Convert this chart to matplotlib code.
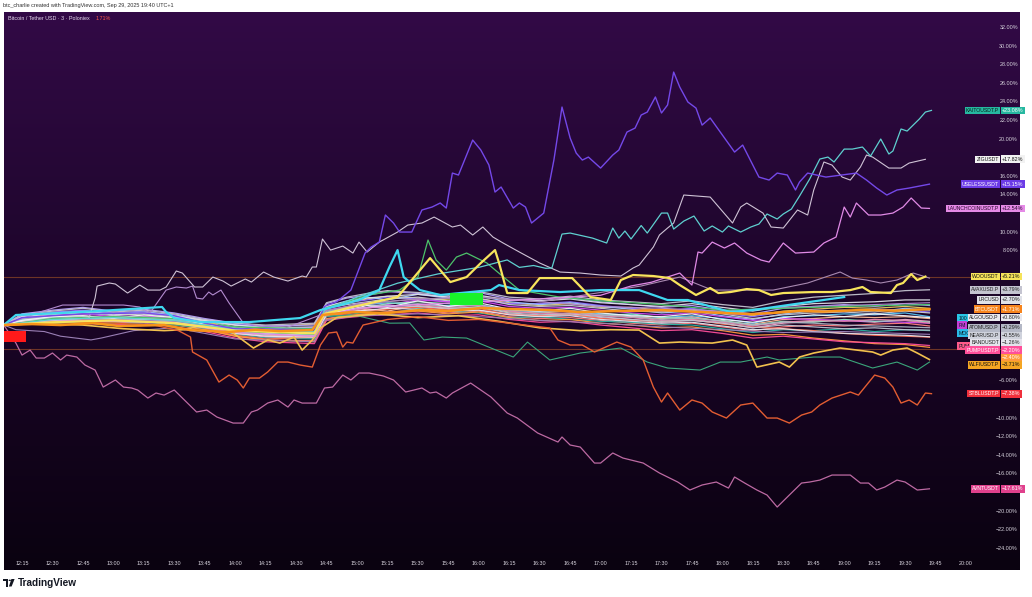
import numpy as np
import pandas as pd
import matplotlib
matplotlib.use("Agg")
import matplotlib.pyplot as plt
import matplotlib.dates as mdates
from matplotlib.colors import LinearSegmentedColormap
from matplotlib.patches import Polygon, Circle
from matplotlib.transforms import blended_transform_factory

plt.rcParams['font.family'] = ['Liberation Sans', 'DejaVu Sans']

DAY = "2025-09-29 "

# 1 Data: % change since the first bar, (time, value) pairs
useless = [("12:06",0.0),("12:15",0.8),("12:45",1.2),("13:15",1.3),("13:30",1.0),("13:45",0.2),("14:00",-0.4),("14:39",-0.5),("14:44",2.0),("14:50",2.5),("14:57",3.76),("15:04",7.74),("15:07",8.39),("15:11",8.92),("15:14",11.83),("15:18",10.97),("15:21",10.0),("15:27",10.0),("15:32",12.37),("15:37",12.69),("15:41",13.12),("15:44",12.58),("15:47",16.34),("15:50",16.13),("15:57",19.89),("16:01",18.82),("16:05",17.2),("16:08",14.3),("16:11",14.84),("16:17",12.58),("16:20",13.12),("16:23",12.69),("16:26",10.97),("16:32",12.04),("16:37",17.74),("16:41",23.44),("16:45",20.11),("16:48",18.49),("16:51",17.74),("16:54",18.06),("17:00",16.88),("17:06",18.28),("17:09",18.82),("17:13",20.75),("17:17",21.18),("17:20",22.58),("17:23",22.9),("17:27",24.52),("17:30",22.8),("17:33",23.66),("17:36",27.2),("17:39",25.59),("17:43",23.98),("17:47",23.33),("17:50",21.5),("17:54",22.26),("18:00",20.43),("18:06",18.6),("18:10",19.35),("18:13",18.06),("18:18",15.91),("18:23",15.59),("18:27",16.34),("18:32",16.13),("18:36",14.52),("18:38",15.38),("18:42",16.34),("18:51",15.91),("19:06",16.34),("19:11",15.59),("19:16",14.73),("19:21",13.98),("19:26",14.52),("19:32",14.73),("19:42",15.15)]

kaito = [("12:06",0.0),("12:30",0.6),("13:00",0.8),("13:30",0.5),("14:00",-0.5),("14:39",-0.7),("14:44",1.6),("15:00",3.0),("15:20",4.5),("15:40",5.5),("16:00",6.2),("16:14",7.0),("16:20",6.2),("16:27",6.4),("16:33",6.1),("16:36",6.13),("16:41",9.78),("16:45",9.89),("16:56",9.35),("17:03",8.82),("17:06",10.43),("17:09",9.35),("17:12",10.11),("17:15",9.25),("17:20",10.7),("17:23",9.89),("17:30",12.04),("17:33",12.04),("17:36",10.32),("17:41",11.18),("17:46",11.72),("17:51",10.11),("17:55",10.65),("18:00",10.0),("18:03",10.65),("18:09",10.0),("18:14",10.54),("18:18",10.86),("18:22",11.94),("18:27",11.4),("18:30",11.94),("18:34",12.47),("18:38",13.87),("18:43",15.7),("18:48",17.85),("18:52",18.06),("18:55",17.53),("19:00",18.92),("19:04",18.92),("19:09",19.14),("19:13",18.17),("19:18",20.0),("19:22",18.39),("19:24",18.71),("19:28",21.08),("19:31",20.86),("19:37",22.15),("19:40",22.9),("19:43",23.08)]

zig = [("12:06",0.0),("12:34",0.54),("12:48",0.75),("12:51",2.9),("12:52",4.19),("12:58",4.52),("13:01",4.41),("13:07",3.44),("13:13",4.3),("13:17",3.76),("13:23",3.76),("13:26",4.09),("13:31",5.81),("13:34",5.59),("13:40",4.09),("13:44",4.09),("13:49",5.16),("13:54",4.73),("13:58",4.19),("14:05",4.95),("14:08",4.62),("14:14",5.7),("14:19",5.16),("14:26",4.73),("14:33",5.27),("14:35",5.16),("14:38",6.24),("14:40",6.24),("14:43",9.25),("14:47",8.06),("14:53",8.49),("14:58",7.74),("15:01",8.92),("15:05",7.85),("15:11",8.92),("15:20",10.0),("15:25",10.75),("15:32",10.97),("15:38",11.61),("15:47",10.54),("15:51",10.75),("15:57",9.68),("16:02",10.54),("16:07",9.46),("16:12",8.82),("16:20",7.85),("16:30",6.67),("16:40",5.7),("16:50",5.59),("17:00",5.38),("17:10",5.27),("17:16",6.13),("17:19",6.45),("17:26",8.39),("17:29",9.68),("17:33",10.43),("17:36",10.97),("17:41",13.98),("17:54",13.76),("18:05",10.97),("18:09",12.69),("18:12",13.12),("18:20",12.04),("18:24",10.54),("18:30",10.43),("18:37",12.37),("18:42",11.83),("18:45",14.52),("18:50",17.53),("18:54",17.2),("18:59",15.91),("19:03",15.59),("19:08",16.99),("19:11",18.28),("19:14",18.06),("19:22",16.88),("19:28",16.88),("19:32",17.42),("19:40",17.82)]

launch = [("12:06",0.0),("12:30",0.5),("13:00",0.4),("13:30",0.2),("14:00",-0.8),("14:39",-1.2),("14:44",1.0),("15:00",1.8),("15:30",2.2),("16:00",2.5),("16:30",2.8),("17:00",3.2),("17:15",4.2),("17:25",4.6),("17:39",5.59),("17:45",4.3),("17:48",7.85),("17:50",7.74),("17:55",8.92),("18:01",8.28),("18:06",8.82),("18:12",7.74),("18:19",6.99),("18:23",6.77),("18:30",8.82),("18:36",7.74),("18:45",7.85),("18:50",8.82),("18:56",9.46),("19:00",12.69),("19:03",11.61),("19:06",13.12),("19:12",11.83),("19:18",11.83),("19:24",12.04),("19:29",12.69),("19:33",13.66),("19:38",12.58),("19:42",12.54)]

avnt = [("12:06",0.0),("12:12",-1.94),("12:15",-3.23),("12:19",-2.69),("12:22",-3.55),("12:26",-3.55),("12:30",-3.01),("12:34",-3.76),("12:37",-3.23),("12:42",-3.44),("12:46",-4.3),("12:51",-4.84),("12:55",-6.67),("13:01",-5.91),("13:05",-6.67),("13:09",-6.77),("13:12",-6.99),("13:17",-7.85),("13:21",-7.31),("13:25",-7.53),("13:30",-6.99),("13:34",-7.85),("13:41",-9.35),("13:46",-9.14),("13:51",-9.89),("13:59",-10.54),("14:04",-10.54),("14:08",-9.35),("14:11",-9.14),("14:16",-8.39),("14:21",-8.06),("14:26",-8.82),("14:29",-8.06),("14:33",-8.39),("14:40",-8.39),("14:44",-6.77),("14:48",-6.67),("14:53",-5.38),("14:57",-5.91),("15:01",-5.16),("15:06",-5.16),("15:13",-5.48),("15:18",-5.91),("15:24",-7.2),("15:28",-6.99),("15:32",-6.77),("15:36",-7.31),("15:39",-7.2),("15:44",-7.85),("15:47",-7.31),("15:56",-6.24),("16:01",-6.99),("16:06",-7.74),("16:14",-9.46),("16:19",-10.0),("16:29",-11.61),("16:39",-12.58),("16:41",-12.04),("16:45",-12.9),("16:50",-13.12),("16:57",-14.84),("17:00",-14.84),("17:06",-13.76),("17:11",-14.3),("17:21",-14.84),("17:29",-15.91),("17:38",-16.88),("17:44",-17.74),("17:50",-17.2),("17:57",-16.88),("18:03",-17.53),("18:06",-16.34),("18:11",-16.99),("18:17",-17.74),("18:22",-18.28),("18:27",-19.57),("18:32",-18.49),("18:39",-16.99),("18:43",-16.88),("18:48",-16.67),("18:54",-16.13),("19:03",-16.13),("19:08",-16.99),("19:12",-16.99),("19:16",-17.74),("19:20",-17.42),("19:26",-16.67),("19:30",-16.88),("19:36",-17.74),("19:42",-17.61)]

stbl = [("12:06",0.0),("12:30",0.4),("13:00",0.2),("13:20",0.0),("13:32",-0.6),("13:38",-1.29),("13:39",-2.9),("13:46",-3.76),("13:52",-6.13),("13:57",-5.38),("14:01",-5.91),("14:04",-6.77),("14:07",-5.7),("14:12",-5.7),("14:16",-5.05),("14:21",-3.98),("14:26",-3.98),("14:32",-4.3),("14:38",-4.52),("14:42",-2.15),("14:46",-0.86),("14:50",-0.75),("14:53",-2.37),("14:55",-1.83),("14:58",-1.94),("15:01",-0.75),("15:03",0.0),("15:15",0.6),("15:30",0.9),("15:45",0.5),("16:00",0.6),("16:15",0.2),("16:35",-0.32),("16:39",-1.61),("16:45",-2.15),("16:51",-2.15),("16:57",-2.9),("17:08",-1.83),("17:15",-2.37),("17:21",-3.76),("17:26",-6.67),("17:30",-8.28),("17:33",-7.31),("17:39",-9.14),("17:45",-8.06),("17:50",-8.39),("17:55",-9.35),("18:02",-10.0),("18:09",-8.6),("18:15",-8.39),("18:22",-10.0),("18:27",-10.0),("18:33",-10.54),("18:39",-9.68),("18:44",-9.35),("18:48",-8.6),("18:54",-7.85),("19:03",-7.2),("19:07",-7.53),("19:15",-5.38),("19:20",-5.7),("19:24",-6.67),("19:28",-8.39),("19:32",-8.06),("19:36",-8.6),("19:40",-7.31),("19:43",-7.38)]

woo = [("12:06",0.0),("12:30",0.3),("13:00",0.5),("13:30",0.2),("14:00",-0.6),("14:39",-0.9),("14:44",1.2),("14:55",1.8),("15:20",3.01),("15:36",7.2),("15:41",5.91),("15:46",4.62),("15:54",5.16),("16:01",6.67),("16:08",8.06),("16:10",6.67),("16:14",3.44),("16:24",3.44),("16:30",5.05),("16:46",5.05),("16:55",3.01),("17:05",2.69),("17:10",4.84),("17:16",5.38),("17:26",5.27),("17:34",5.05),("17:39",4.3),("17:47",3.23),("17:54",3.98),("17:58",3.44),("18:04",3.55),("18:12",3.87),("18:18",3.76),("18:24",3.23),("18:30",3.44),("18:45",3.55),("18:54",3.55),("19:03",3.76),("19:09",4.09),("19:13",3.55),("19:23",3.44),("19:26",4.3),("19:29",4.52),("19:33",5.48),("19:36",4.84),("19:40",5.21)]

wlfi = [("12:06",0.0),("12:20",0.2),("12:45",0.0),("13:05",-0.4),("13:25",-0.6),("13:35",-0.5),("13:49",0.22),("13:59",-0.86),("14:09",-2.47),("14:16",-1.61),("14:22",-1.94),("14:29",-1.29),("14:33",-2.69),("14:38",-1.61),("14:42",-0.32),("14:50",0.8),("15:10",1.2),("15:30",0.8),("15:50",1.0),("16:10",0.4),("16:30",-0.3),("16:50",-0.6),("17:05",-0.5),("17:19",-0.54),("17:29",-1.94),("17:39",-1.83),("17:55",-1.94),("18:05",-1.61),("18:12",-2.15),("18:17",-4.52),("18:28",-3.98),("18:33",-4.52),("18:38",-3.44),("18:45",-3.01),("18:58",-2.47),("19:14",-2.9),("19:18",-3.23),("19:24",-2.69),("19:31",-2.47),("19:36",-3.01),("19:42",-3.71)]

green_low = [("12:06",0.0),("12:30",0.3),("13:00",0.2),("13:30",0.0),("14:00",-0.7),("14:39",-1.0),("14:44",1.0),("15:00",1.0),("15:16",0.2),("15:26",0.22),("15:33",-1.61),("15:42",-1.29),("15:54",-1.4),("16:06",-2.47),("16:17",-3.44),("16:24",-1.83),("16:35",-3.76),("16:50",-3.01),("17:10",-2.47),("17:23",-3.98),("17:33",-4.62),("17:49",-4.84),("17:59",-3.98),("18:09",-3.98),("18:22",-3.44),("18:28",-3.76),("18:45",-3.44),("18:58",-3.44),("19:14",-4.62),("19:26",-3.98),("19:36",-4.84),("19:42",-3.98)]

green_spike = [("12:06",0.0),("12:30",0.7),("13:00",0.9),("13:30",0.7),("14:00",-0.2),("14:39",-0.4),("14:44",1.8),("14:55",2.5),("15:05",3.2),("15:21",3.76),("15:30",5.16),("15:35",9.14),("15:39",6.99),("15:44",5.91),("15:49",7.31),("15:54",7.74),("16:01",6.99),("16:04",6.67),("16:11",5.38),("16:20",3.76),("16:40",3.0),("17:00",2.6),("17:30",2.2),("18:00",1.6),("18:30",1.8),("19:00",2.0),("19:42",2.2)]

cyan = [("12:06",0.0),("12:12",1.08),("12:34",1.29),("12:53",1.51),("13:24",1.94),("13:26",1.4),("13:30",0.75),("13:43",0.32),("14:07",0.32),("14:32",0.75),("14:42",1.61),("14:52",2.15),("15:01",2.69),("15:11",3.76),("15:16",6.24),("15:20",8.06),("15:23",5.16),("15:26",4.62),("15:31",3.76),("15:41",3.23),("15:56",3.55),("16:06",3.76),("16:10",4.3),("16:20",3.76),("16:40",3.55),("17:00",3.76),("17:19",3.76),("17:33",2.69),("17:43",2.69),("17:55",1.94),("18:04",1.4),("18:15",1.61),("19:00",3.01)]

btc = [("12:06",0.0),("12:20",0.1),("12:34",0.0),("12:50",0.2),("13:03",-0.11),("13:25",0.0),("13:38",-0.54),("13:57",-0.75),("14:10",-0.5),("14:22",-0.65),("14:38",-0.54),("14:43",1.08),("14:57",1.4),("15:15",1.3),("15:31",1.61),("15:45",1.5),("16:01",1.83),("16:20",1.7),("16:35",1.61),("16:50",1.4),("17:10",1.51),("17:30",1.6),("17:49",1.4),("18:14",1.18),("18:25",1.3),("18:38",1.51),("18:50",1.45),("19:08",1.61),("19:25",1.55),("19:42",1.71)]

lilac = [("12:06",0.0),("12:24",1.4),("12:35",2.15),("13:05",2.15),("13:13",1.94),("13:18",1.29),("13:26",3.76),("13:31",4.09),("13:36",3.98),("13:39",4.19),("13:41",2.9),("13:44",2.8),("13:47",3.55),("13:49",3.23),("13:53",3.76),("13:57",2.37),("14:04",0.22),("14:22",-0.54),("14:42",1.08),("15:00",2.3),("15:30",2.8),("16:00",3.0),("16:30",2.5),("17:00",2.0),("17:30",1.8),("18:00",1.5),("18:30",1.9),("19:00",2.1),("19:42",2.4)]

mauve = [("12:06",0.0),("12:30",0.5),("13:00",0.6),("13:30",0.4),("14:00",-0.5),("14:39",-0.7),("14:44",1.5),("15:00",2.2),("15:30",2.8),("16:00",3.0),("16:30",2.5),("17:00",3.5),("17:20",4.2),("17:39",5.16),("17:55",3.76),("18:25",3.76),("18:42",4.52),("18:58",5.7),("19:04",5.05),("19:11",4.84),("19:18",4.52),("19:26",4.84),("19:34",5.59),("19:42",5.05)]

dusk = [("12:06",0.0),("12:12",-0.5),("12:26",-0.7),("12:34",-1.2),("12:49",-1.6),("12:54",-1.4),("13:10",-0.6),("13:30",-0.3),("14:00",-1.5),("14:39",-1.8),("14:44",0.5),("15:00",1.0),("15:30",1.2),("16:00",0.9),("16:30",0.5),("17:00",0.2),("17:30",-0.2),("18:00",-0.5),("18:30",-0.8),("19:00",-0.7),("19:42",-1.0)]

# 1.1 the dense bundle, all on one time grid
band_t = ["12:06","12:15","12:30","12:45","13:00","13:15","13:30","13:45","14:00","14:15","14:39","14:45","14:55",
          "15:05","15:15","15:30","15:45","16:00","16:15","16:30","16:45","17:00","17:15","17:30","17:45","18:00",
          "18:15","18:30","18:45","19:00","19:15","19:30","19:42"]
algo   = [0,0.5,0.9,1.0,0.7,1.1,0.8,0.1,-0.6,-0.9,-1.0,1.2,1.6,2.1,1.9,2.6,2.0,2.4,1.7,1.5,1.8,1.3,1.0,0.9,1.2,0.6,0.3,0.8,1.1,0.9,1.2,1.0,0.8]
b_gray = [0,0.8,1.1,1.3,1.0,1.2,0.9,0.4,-0.2,-0.5,-0.4,1.8,2.2,2.5,2.8,3.0,2.6,2.9,2.2,2.0,2.1,1.8,1.5,1.4,1.6,1.2,0.7,1.1,1.3,1.4,1.2,1.5,1.3]
b_pink = [0,0.3,0.6,0.5,0.4,0.7,0.3,-0.2,-0.9,-1.3,-1.4,1.0,1.3,1.5,1.8,2.0,1.7,1.6,1.2,1.0,1.1,0.8,0.6,0.3,0.5,0.2,-0.3,0.2,0.4,0.5,0.3,0.6,0.4]
b_lblue = [0,0.9,1.3,1.5,1.2,1.4,1.1,0.5,0.0,-0.3,-0.5,2.0,2.6,3.0,2.7,3.3,2.9,3.1,2.5,2.2,2.4,2.0,1.7,1.3,1.5,1.0,0.6,1.2,1.5,1.6,1.4,1.8,1.6]
b_lav = [0,1.2,1.6,1.9,1.5,1.7,1.3,0.7,0.2,-0.1,0.0,2.3,2.9,3.2,3.6,3.4,3.0,3.5,2.8,2.6,2.9,2.5,2.2,1.9,2.1,1.6,1.2,1.8,2.0,2.2,2.0,2.3,2.1]
b_peach = [0,0.4,0.5,0.7,0.5,0.6,0.4,-0.1,-0.8,-1.1,-1.2,1.1,1.4,1.7,1.5,2.1,1.8,1.9,1.4,1.3,1.5,1.1,0.9,0.7,0.9,0.4,0.1,0.6,0.7,0.9,0.8,0.9,0.7]
b_salmon = [0,0.2,0.4,0.3,0.1,0.4,0.0,-0.5,-1.2,-1.6,-1.7,0.7,1.0,1.2,1.4,1.6,1.3,1.5,0.9,0.7,0.8,0.5,0.2,0.0,0.2,-0.2,-0.6,-0.2,0.0,-0.1,0.1,0.2,-0.1]
pump = [0,0.1,0.3,0.2,0.0,0.2,-0.2,-0.7,-1.4,-1.8,-2.0,0.5,0.8,1.0,1.1,1.3,1.0,1.1,0.6,0.3,0.4,0.0,-0.3,-0.6,-0.5,-0.9,-1.4,-1.2,-1.5,-1.8,-1.9,-2.0,-2.2]
b_magenta = [0,0.7,1.0,1.2,0.9,1.0,0.7,0.3,-0.4,-0.6,-0.7,1.6,2.0,2.4,2.2,2.7,2.5,2.6,2.0,1.8,1.9,1.6,1.3,1.1,1.3,0.9,0.5,0.7,0.6,0.5,0.4,0.3,0.2]
b_sky = [0,0.6,0.7,0.8,0.6,0.8,0.5,0.0,-0.7,-1.0,-0.9,1.4,1.9,2.2,2.4,2.2,2.1,2.2,1.6,1.4,1.6,1.2,1.1,0.8,1.0,0.7,0.2,0.9,1.0,1.2,1.1,1.3,0.9]
b_mint = [0,0.5,0.8,0.6,0.9,0.7,0.6,0.2,-0.3,-0.8,-1.1,1.3,1.7,1.9,2.3,2.5,2.3,2.0,1.5,1.7,1.4,1.0,1.2,0.8,0.7,0.5,0.0,0.4,0.3,0.6,0.4,0.5,0.3]
b_teal = [0,0.3,0.2,0.4,0.2,0.3,0.1,-0.3,-1.0,-1.4,-1.5,0.9,1.1,1.4,1.2,1.8,1.5,1.3,0.8,0.9,0.6,0.4,0.3,0.1,0.0,-0.4,-0.8,-0.5,-0.6,-0.4,-0.7,-0.5,-0.6]
b_gold = [0,0.6,0.9,1.1,1.3,1.0,0.8,0.4,0.0,-0.2,0.1,2.1,2.4,2.8,3.1,2.9,2.7,2.8,2.4,2.1,2.3,1.9,1.9,1.6,1.7,1.4,1.0,1.5,1.7,1.9,1.8,2.0,1.8]
b_coral = [0,0.4,0.3,0.6,0.3,0.5,0.2,-0.4,-1.1,-1.5,-1.3,1.0,1.2,1.6,1.7,1.9,1.6,1.8,1.1,1.0,1.2,0.7,0.5,0.4,0.6,0.1,-0.2,-0.4,-0.6,-0.9,-1.1,-1.2,-1.3]
b_violet = [0,1.0,1.4,1.6,1.3,1.5,1.0,0.6,0.1,-0.2,-0.3,1.9,2.4,2.7,3.0,2.8,2.5,2.7,2.3,2.3,2.5,2.1,1.8,1.5,1.8,1.3,0.9,1.4,1.6,1.5,1.7,1.6,1.4]
b_rose = [0,0.2,0.5,0.4,0.2,0.5,0.2,-0.3,-0.9,-1.2,-1.1,1.2,1.5,1.8,2.0,2.2,1.9,2.1,1.5,1.2,1.3,1.0,0.8,0.5,0.6,0.3,-0.1,0.3,0.5,0.4,0.6,0.5,0.2]
atom = [0,0.7,0.9,1.0,0.8,0.9,0.6,0.1,-0.5,-0.8,-0.8,1.5,1.9,2.2,2.0,2.3,2.0,2.2,1.6,1.4,1.5,1.1,0.9,0.6,0.8,0.4,0.0,0.3,0.2,0.0,-0.1,-0.2,-0.29]
near = [0,0.5,0.7,0.9,0.6,0.8,0.4,-0.1,-0.7,-1.0,-1.1,1.3,1.6,1.9,2.1,2.0,1.8,1.9,1.3,1.1,1.2,0.9,0.6,0.4,0.5,0.2,-0.3,0.0,-0.2,-0.4,-0.3,-0.5,-0.55]
lrc = [0,0.9,1.2,1.4,1.1,1.3,1.0,0.5,0.0,-0.3,-0.2,2.0,2.5,2.9,3.1,3.3,3.0,3.2,2.7,2.6,2.8,2.4,2.2,2.0,2.3,1.9,1.5,2.0,2.3,2.4,2.5,2.7,2.7]
b_orange = [0,0.3,0.4,0.5,0.3,0.4,0.1,-0.5,-1.2,-1.6,-1.8,0.6,1.0,1.2,1.3,1.5,1.2,1.4,0.8,0.5,0.6,0.2,0.0,-0.3,-0.2,-0.6,-1.1,-1.0,-1.4,-1.7,-2.0,-2.1,-2.4]
avax = [0,1.1,1.5,1.8,1.4,1.6,1.2,0.6,0.2,0.0,0.2,2.4,3.0,3.4,3.7,3.5,3.2,3.6,3.0,2.8,3.1,2.7,2.5,2.3,2.6,2.2,1.9,2.6,3.0,3.2,3.4,3.7,3.79]
band = [0,0.4,0.6,0.7,0.5,0.6,0.3,-0.2,-0.9,-1.2,-1.3,1.1,1.4,1.6,1.8,1.7,1.5,1.6,1.1,0.9,1.0,0.6,0.4,0.2,0.3,-0.1,-0.5,-0.4,-0.7,-0.9,-1.0,-1.1,-1.26]

# 1.2 marker boxes and price lines
red_box_t = ["12:06", "12:17"]
red_box_v = [-0.65, -1.8]
green_box_t = ["15:46", "16:02"]
green_box_v = [2.15, 3.44]
price_lines = [5.21, -2.58]


def times(lst):
    return mdates.date2num(pd.to_datetime([DAY + s for s in lst]).to_pydatetime())

def unpack(pairs):
    return times([p[0] for p in pairs]), np.array([p[1] for p in pairs])


# 2 Figure and background
fig = plt.figure(figsize=(10.32, 5.97), dpi=100)
fig.patch.set_facecolor('white')
ax = fig.add_axes([4/1032, 27/597, 1016/1032, 558/597])
for s in ax.spines.values():
    s.set_visible(False)

grad = np.linspace(0, 1, 256).reshape(-1, 1)
cmap = LinearSegmentedColormap.from_list('bg', ['#0a0210', '#1c0529', '#320a46'])
ax.imshow(grad, extent=(0, 1, 0, 1), transform=ax.transAxes, origin='lower',
          aspect='auto', cmap=cmap, zorder=0)

x0, x1 = times(["12:06:08", "20:26:36"])
ax.set_xlim(x0, x1)
ax.set_ylim(-26.34, 33.66)
ax.set_autoscale_on(False)

for pl in price_lines:
    ax.axhline(pl, color='#6e3526', lw=0.8, zorder=1)

# 3 Lines
bt = times(band_t)
band_series = [
    (b_gold, '#e8cc60'), (b_lav, '#b7a3ff'), (b_violet, '#8e6cff'), (b_lblue, '#9fc9ff'),
    (b_gray, '#c9ccd6'), (b_pink, '#f3a9c9'), (b_peach, '#ffbe95'), (b_salmon, '#ff8080'),
    (b_magenta, '#d04cf0'), (b_sky, '#58c6f5'), (b_mint, '#8fe8bf'), (b_teal, '#2ab2a0'),
    (b_coral, '#ff6b4d'), (b_rose, '#e683b0'), (b_orange, '#ff9a3c'), (pump, '#ff4f9a'),
    (atom, '#aeb3c2'), (near, '#c0c4d0'), (band, '#e4e4ec'), (lrc, '#dfe1e8'),
    (avax, '#c4c4d0'), (algo, '#f4f4f8'),
]
for vals, col in band_series:
    ax.plot(bt, vals, color=col, lw=0.9, alpha=0.95, zorder=2)

main_series = [
    (dusk, '#9a7fb5', 0.8), (lilac, '#b38bd0', 0.8), (mauve, '#a889b0', 0.8),
    (green_low, '#3aa57a', 0.8), (green_spike, '#4cc26a', 0.9), (wlfi, '#f2c14e', 1.2),
    (avnt, '#bd6aa3', 0.9), (stbl, '#e35d32', 1.0), (launch, '#e08ae6', 0.9),
    (zig, '#cfc3d6', 0.8), (kaito, '#5fd0d0', 0.9), (useless, '#7448e8', 1.0),
    (cyan, '#3fd8f0', 1.6), (woo, '#f8e45c', 1.6), (btc, '#f7931a', 1.8),
]
for pairs, col, lw in main_series:
    t, v = unpack(pairs)
    ax.plot(t, v, color=col, lw=lw, zorder=3)

rt = times(red_box_t)
ax.fill_between(rt, red_box_v[0], red_box_v[1], color='#ff1a1a', lw=0, zorder=5)
gt = times(green_box_t)
ax.fill_between(gt, green_box_v[0], green_box_v[1], color='#19f22a', lw=0, zorder=5)

# 4 End labels, stacked so they do not overlap
bl_y = blended_transform_factory(ax.transAxes, ax.transData)
bl_x = blended_transform_factory(ax.transData, ax.transAxes)

lab_names = ["KAITOUSDT.P", "ZIGUSDT", "USELESSUSDT", "LAUNCHCOINUSDT.P", "WOOUSDT", "AVAXUSD.P",
             "LRCUSD", "BTCUSDT", "ALGOUSD.P", "ATOMUSD.P", "NEARUSD.P", "BANDUSDT", "PUMPUSDT.P",
             "", "WLFIUSDT.P", "STBLUSDT.P", "AVNTUSDT"]
lab_ends = [kaito[-1][1], zig[-1][1], useless[-1][1], launch[-1][1], woo[-1][1], avax[-1],
            lrc[-1], btc[-1][1], algo[-1], atom[-1], near[-1], band[-1], pump[-1],
            b_orange[-1], wlfi[-1][1], stbl[-1][1], avnt[-1][1]]
lab_bg = ['#26b8a0', '#f2f2f2', '#6c3be6', '#e58ae6', '#f6e35a', '#c4c4d0',
          '#dfe1e8', '#f7841c', '#e8e8ee', '#b4b8c6', '#cfd2dc', '#e4e4ec', '#ff4f9a',
          '#ff9a3c', '#f5a623', '#f0303c', '#e0408c']
lab_fg = ['#07201c', '#111111', 'white', '#2a0830', '#111111', '#222222',
          '#222222', 'white', '#222222', '#222222', '#222222', '#222222', 'white',
          'white', '#111111', 'white', 'white']

order = np.argsort(lab_ends)[::-1]
gap = 0.8
last = 1e9
lab_pos = {}
for i in order:
    yv = min(lab_ends[i], last - gap)
    lab_pos[i] = yv
    last = yv

# hidden tags peeking out behind the stack
tag_text = ["100", "FM", "MOO", "PUM"]
tag_val = [0.75, 0.0, -0.86, -2.26]
tag_bg = ['#29c6e6', '#c33fd6', '#29b8e6', '#ff5a8a']
for tx, tv, tb in zip(tag_text, tag_val, tag_bg):
    ax.text(0.9395, tv, tx, transform=bl_y, ha='left', va='center', fontsize=3.7, color='#0b1a22',
            bbox=dict(boxstyle='square,pad=0.25', fc=tb, ec='none'), zorder=6)

for i in order[::-1]:
    yv = lab_pos[i]
    if lab_names[i]:
        ax.text(0.9793, yv, lab_names[i], transform=bl_y, ha='right', va='center', fontsize=3.7,
                color=lab_fg[i], bbox=dict(boxstyle='square,pad=0.25', fc=lab_bg[i], ec='none'), zorder=7)
    ax.text(0.9822, yv, f"{lab_ends[i]:+.2f}%".replace("-", "\u2212"), transform=bl_y, ha='left',
            va='center', fontsize=3.9, color=lab_fg[i] if lab_fg[i] != '#07201c' else 'white',
            bbox=dict(boxstyle='square,pad=0.25', fc=lab_bg[i], ec='none'), zorder=7)

# 5 Axis texts (drawn inside, like the TradingView scales); skip the ones under a label
for yv in np.arange(-24, 33, 2):
    if min(abs(yv - p) for p in lab_pos.values()) < 0.8:
        continue
    ax.text(0.998, yv, f"{yv:.2f}%".replace("-", "\u2212"), transform=bl_y, ha='right', va='center',
            fontsize=3.9, color='#d8d4de', zorder=6)

ax.xaxis.set_major_locator(mdates.MinuteLocator(byminute=[0, 15, 30, 45]))
for xv in ax.get_xticks():
    if x0 < xv < times(["20:05"])[0]:
        ax.text(xv, 0.0125, mdates.num2date(xv).strftime('%H:%M'), transform=bl_x,
                ha='center', va='center', fontsize=3.9, color='#d8d4de', zorder=6)
ax.set_xticks([])
ax.set_yticks([])

# 6 Header and footer
fig.text(3/1032, 1 - 6/597, "btc_charlie created with TradingView.com, Sep 29, 2025 19:40 UTC+1",
         fontsize=4.0, color='#333333', va='center', ha='left')
fig.text(8/1032, 1 - 18/597, "Bitcoin / Tether USD \u00b7 3 \u00b7 Poloniex", fontsize=3.9,
         color='#e6dcef', va='center', ha='left')
fig.text(96/1032, 1 - 18/597, "1.71%", fontsize=3.9, color='#ff5a4a', va='center', ha='left')

def px(x, y):
    return (x/1032, 1 - y/597)

ink = '#131722'
fig.patches.append(Polygon([px(3, 579), px(8.2, 579), px(8.2, 586.5), px(6, 586.5), px(6, 581.4), px(3, 581.4)],
                           closed=True, fc=ink, ec='none', transform=fig.transFigure, figure=fig))
fig.patches.append(Circle(px(9.8, 580.3), 1.2/1032, fc=ink, ec='none', transform=fig.transFigure, figure=fig))
fig.patches.append(Polygon([px(11.4, 579), px(14.6, 579), px(11.6, 586.5), px(8.9, 586.5)],
                           closed=True, fc=ink, ec='none', transform=fig.transFigure, figure=fig))
fig.text(18/1032, 1 - 583/597, "TradingView", fontsize=7.2, fontweight='bold', color=ink,
         va='center', ha='left')

fig.savefig("out.png", dpi=100)
